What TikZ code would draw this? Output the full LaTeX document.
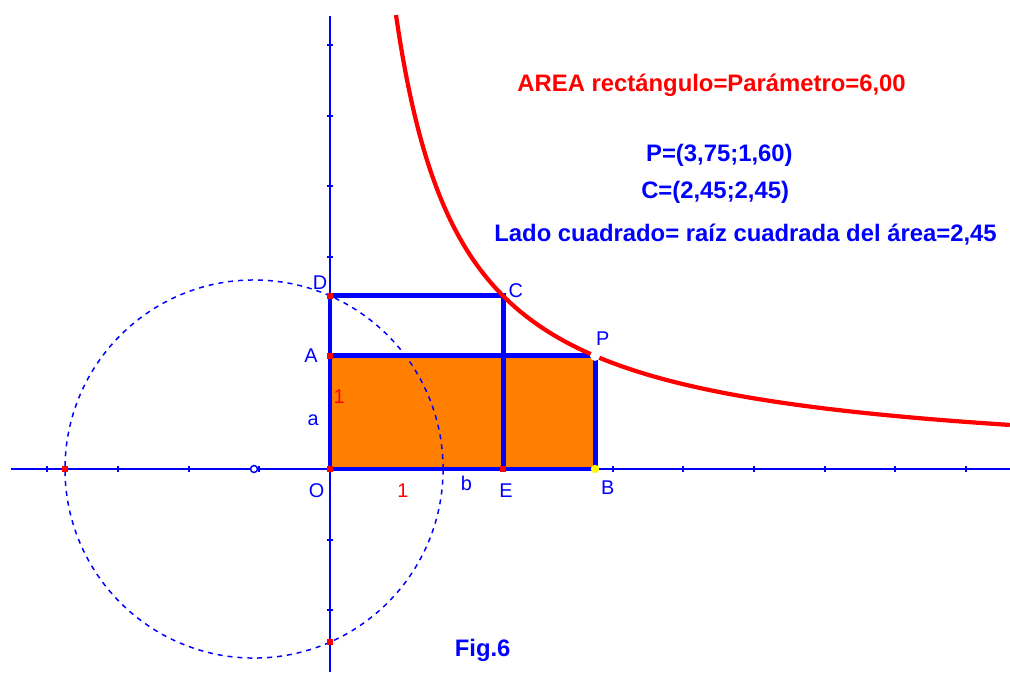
\documentclass[tikz,border=0pt]{standalone}
\usepackage{fontspec}
\setmainfont{Liberation Sans}
\definecolor{geoblue}{RGB}{0,0,255}
\definecolor{geored}{RGB}{255,0,0}
\definecolor{geoorange}{RGB}{255,128,0}
\definecolor{geoyellow}{RGB}{255,255,0}
\tikzset{
  axis/.style={geoblue,line width=0.8pt},
  axtick/.style={geoblue,line width=0.8pt},
  side/.style={geoblue,line width=2pt},
  curve/.style={geored,line width=1.7pt},
  redpt/.style={rectangle,fill=geored,inner sep=0pt,minimum size=2.5pt},
  lbl/.style={text=geoblue,inner sep=0pt,font=\fontsize{8}{9}\selectfont},
  unitlbl/.style={text=geored,inner sep=0pt,font=\fontsize{8}{9}\selectfont},
  info/.style={text=geoblue,inner sep=0pt,font=\fontsize{9.6}{11}\selectfont\bfseries}
}
\begin{document}
\begin{tikzpicture}[x=1cm,y=1cm]
        \useasboundingbox (-4.6696,-2.8725) rectangle (9.622,6.6365);
        \coordinate (O) at (0,0);
        \coordinate (A) at (0,1.6);
        \coordinate (B) at (3.75,0);
        \coordinate (P) at (3.75,1.6);
        \coordinate (E) at (2.45,0);
        \coordinate (C) at (2.45,2.45);
        \coordinate (D) at (0,2.45);
        \coordinate (L) at (-3.75,0);
        \coordinate (Q) at (0,-2.45);
        \coordinate (M) at (-1.075,0);
        \coordinate (Xl) at (-4.514,0);
        \coordinate (Xr) at (9.622,0);
        \coordinate (Yt) at (0,6.41);
        \coordinate (Yb) at (0,-2.8725);
        % rectangle of area 6
        \fill[geoorange] (O) rectangle (P);
        % axes
        \draw[axis] (Xl) -- (Xr);
        \draw[axis] (Yb) -- (Yt);
        \foreach \x in {-4,...,-1,4,5,...,9}
            \draw[axtick] (\x,-0.045) -- (\x,0.045);
        \foreach \y in {-2,-1,3,4,5,6}
            \draw[axtick] (-0.045,\y) -- (0.045,\y);
        % circle through L and (1.6,0)
        \draw[geoblue,line width=0.6pt,dash pattern=on 2pt off 2pt] (M) circle (2.675);
        \draw[side] (O) -- (B) -- (P) -- (A) -- cycle;
        \draw[side] (O) -- (E) -- (C) -- (D) -- cycle;
        \draw[curve] plot[domain=0.934:9.622,samples=160,smooth] (\x,{6/\x});
        % points
        \foreach \p in {O,A,D,E,L,Q}
            \node[redpt] at (\p) {};
        \fill[white] (P) circle (2pt);
        \fill[geoyellow] (B) circle (1.7pt);
        \filldraw[fill=white,draw=geoblue,line width=0.6pt] (M) circle (1.4pt);
        % labels
        \node[lbl] (lD) at (-0.14,2.63) {D};
        \node[lbl] (lC) at (2.63,2.53) {C};
        \node[lbl] (lP) at (3.86,1.85) {P};
        \node[lbl] (lA) at (-0.27,1.60) {A};
        \node[lbl] (la) at (-0.24,0.69) {a};
        \node[lbl] (lO) at (-0.19,-0.30) {O};
        \node[lbl] (lb) at (1.93,-0.20) {b};
        \node[lbl] (lE) at (2.49,-0.30) {E};
        \node[lbl] (lB) at (3.93,-0.27) {B};
        \node[unitlbl] (u1) at (0.13,1.02) {1};
        \node[unitlbl] (u2) at (1.03,-0.30) {1};
        % texts
        \node[info,text=geored] (area) at (5.40,5.43) {AREA rectángulo=Parámetro=6,00};
        \node[info] (cP) at (5.51,4.44) {P=(3,75;1,60)};
        \node[info] (cC) at (5.45,3.91) {C=(2,45;2,45)};
        \node[info] (lado) at (5.88,3.31) {Lado cuadrado= raíz cuadrada del área=2,45};
        \node[info] (fig) at (2.16,-2.56) {Fig.6};
    \end{tikzpicture}
\end{document}
